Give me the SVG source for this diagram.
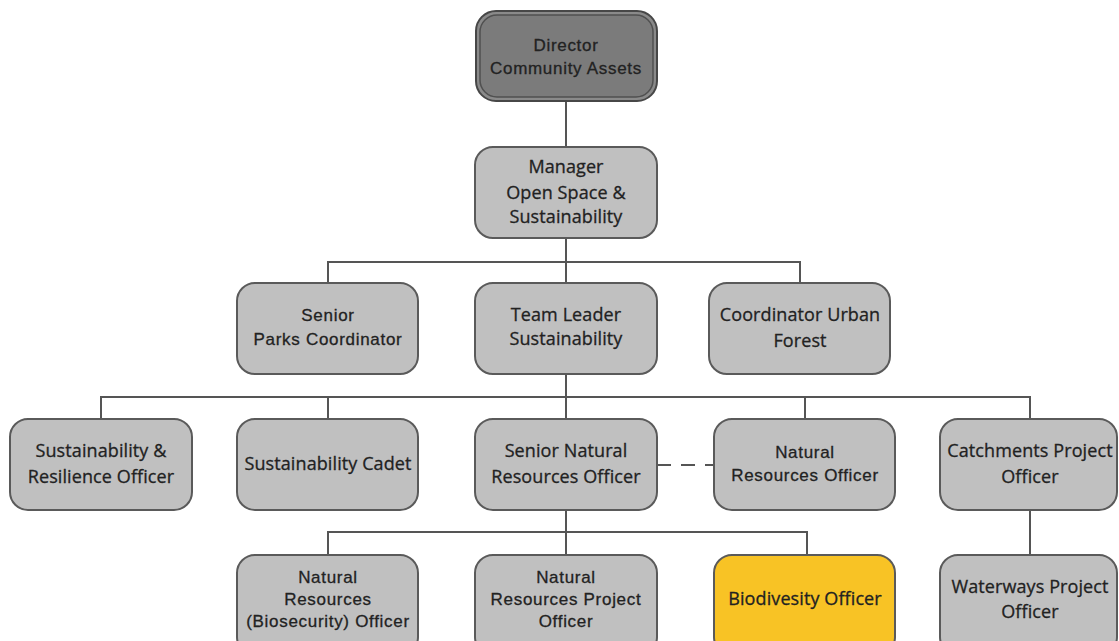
<svg xmlns="http://www.w3.org/2000/svg" width="1119" height="641" viewBox="0 0 1119 641">
  <style>
    .box { fill: #c0c0c0; stroke: #5a5a5a; stroke-width: 2; }
    .hl { fill: #f8c325; stroke: #5a5a5a; stroke-width: 2; }
    .line { fill: none; stroke: #555555; stroke-width: 2; }
    .dash { fill: none; stroke: #555555; stroke-width: 2; stroke-dasharray: 14 10; }
    text { fill: #222222; stroke: #222222; stroke-width: 0.3; text-anchor: middle; }
    .a { font-family: "Liberation Sans", Arial, sans-serif; font-size: 17px; letter-spacing: 0.7px; }
    .c { font-family: "Open Sans", "Liberation Sans", sans-serif; font-size: 18px; letter-spacing: 0.1px; }
  </style>

  <rect width="1119" height="641" fill="#ffffff"/>

  <g id="connectors">
    <path class="line" d="M566 101 V147"/>
    <path class="line" d="M566 238 V262 M328 283 V262 H800 V283 M566 262 V283"/>
    <path class="line" d="M566 374 V397 M101 419 V397 H1030 V419 M328 397 V419 M566 397 V419 M805 397 V419"/>
    <path class="dash" d="M657 465 H714"/>
    <path class="line" d="M566 510 V532 M328 555 V532 H807 V555 M566 532 V555"/>
    <path class="line" d="M1030 510 V555"/>
  </g>

  <g id="director">
    <rect x="476" y="11" width="181" height="90" rx="20" fill="#8a8a8a" stroke="#474747" stroke-width="2"/>
    <rect x="480" y="15" width="173" height="82" rx="17" fill="#7b7b7b" stroke="#505050" stroke-width="1.5"/>
    <text class="a" x="566" y="51">Director</text>
    <text class="a" x="566" y="74">Community Assets</text>
  </g>

  <g id="manager">
    <rect class="box" x="475" y="147" width="182" height="91" rx="18"/>
    <text class="c" x="566" y="173">Manager</text>
    <text class="c" x="566" y="199">Open Space &amp;</text>
    <text class="c" x="566" y="223">Sustainability</text>
  </g>

  <g id="senior-parks">
    <rect class="box" x="237" y="283" width="181" height="91" rx="18"/>
    <text class="a" x="328" y="321">Senior</text>
    <text class="a" x="328" y="345">Parks Coordinator</text>
  </g>

  <g id="team-leader">
    <rect class="box" x="475" y="283" width="182" height="91" rx="18"/>
    <text class="c" x="566" y="321">Team Leader</text>
    <text class="c" x="566" y="345">Sustainability</text>
  </g>

  <g id="urban-forest">
    <rect class="box" x="709" y="283" width="181" height="91" rx="18"/>
    <text class="c" x="800" y="321">Coordinator Urban</text>
    <text class="c" x="800" y="347">Forest</text>
  </g>

  <g id="resilience">
    <rect class="box" x="10" y="419" width="182" height="91" rx="18"/>
    <text class="c" x="101" y="457">Sustainability &amp;</text>
    <text class="c" x="101" y="483">Resilience Officer</text>
  </g>

  <g id="cadet">
    <rect class="box" x="237" y="419" width="181" height="91" rx="18"/>
    <text class="c" x="328" y="470">Sustainability Cadet</text>
  </g>

  <g id="senior-nro">
    <rect class="box" x="475" y="419" width="182" height="91" rx="18"/>
    <text class="c" x="566" y="457">Senior Natural</text>
    <text class="c" x="566" y="483">Resources Officer</text>
  </g>

  <g id="nro">
    <rect class="box" x="714" y="419" width="181" height="91" rx="18"/>
    <text class="a" x="805" y="458">Natural</text>
    <text class="a" x="805" y="481">Resources Officer</text>
  </g>

  <g id="catchments">
    <rect class="box" x="940" y="419" width="177" height="91" rx="18"/>
    <text class="c" x="1030" y="457">Catchments Project</text>
    <text class="c" x="1030" y="483">Officer</text>
  </g>

  <g id="biosecurity">
    <rect class="box" x="237" y="555" width="181" height="100" rx="18"/>
    <text class="a" x="328" y="583">Natural</text>
    <text class="a" x="328" y="605">Resources</text>
    <text class="a" x="328" y="627">(Biosecurity) Officer</text>
  </g>

  <g id="nr-project">
    <rect class="box" x="475" y="555" width="182" height="100" rx="18"/>
    <text class="a" x="566" y="583">Natural</text>
    <text class="a" x="566" y="605">Resources Project</text>
    <text class="a" x="566" y="627">Officer</text>
  </g>

  <g id="biodiversity">
    <rect class="hl" x="714" y="555" width="181" height="100" rx="18"/>
    <text class="c" x="805" y="605">Biodivesity Officer</text>
  </g>

  <g id="waterways">
    <rect class="box" x="940" y="555" width="177" height="100" rx="18"/>
    <text class="c" x="1030" y="593">Waterways Project</text>
    <text class="c" x="1030" y="618">Officer</text>
  </g>
</svg>
